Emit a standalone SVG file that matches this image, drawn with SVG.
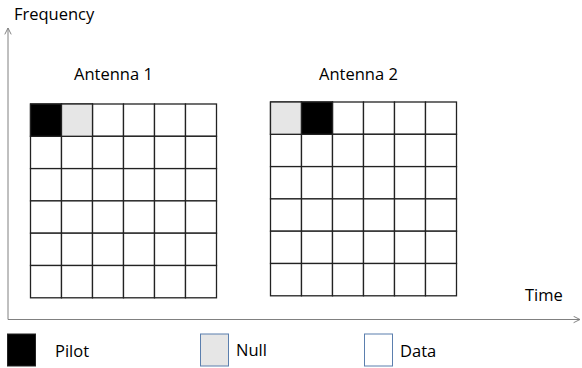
<svg xmlns="http://www.w3.org/2000/svg" width="582" height="368" viewBox="0 0 582 368">
<style>
text{font-family:"Open Sans","Liberation Sans",Arial,sans-serif;font-size:16.5px;fill:#000}
.cell{fill:#fff;stroke:#222;stroke-width:1.3}
.pilot{fill:#000;stroke:#222;stroke-width:1.3}
.null{fill:#e6e6e6;stroke:#222;stroke-width:1.3}
.axis{stroke:#808080;stroke-width:1;fill:none}
.leg{stroke:#5b7fae;stroke-width:1}
</style>
<defs>
<marker id="arr" viewBox="0 0 10 10" refX="9" refY="5" markerWidth="8" markerHeight="8" orient="auto" markerUnits="userSpaceOnUse">
<path d="M1,1 L9,5 L1,9" fill="none" stroke="#808080" stroke-width="1.2"/>
</marker>
<g id="row">
<rect class="cell" x="0" y="0" width="31" height="32.3"/>
<rect class="cell" x="31" y="0" width="31" height="32.3"/>
<rect class="cell" x="62" y="0" width="31" height="32.3"/>
<rect class="cell" x="93" y="0" width="31" height="32.3"/>
<rect class="cell" x="124" y="0" width="31" height="32.3"/>
<rect class="cell" x="155" y="0" width="31" height="32.3"/>
</g>
<g id="grid">
<use href="#row" y="0"/>
<use href="#row" y="32.3"/>
<use href="#row" y="64.6"/>
<use href="#row" y="96.9"/>
<use href="#row" y="129.2"/>
<use href="#row" y="161.5"/>
</g>
</defs>
<g id="connectors">
<line class="axis" x1="8" y1="319.5" x2="8" y2="28" marker-end="url(#arr)"/>
<line class="axis" x1="8" y1="319.5" x2="580" y2="319.5" marker-end="url(#arr)"/>
</g>
<text x="14" y="20">Frequency</text>
<text x="525" y="301">Time</text>
<g id="antenna1">
<text x="74" y="80">Antenna 1</text>
<use href="#grid" x="30.5" y="104"/>
<rect class="pilot" x="30.5" y="104" width="31" height="32.3"/>
<rect class="null" x="61.5" y="104" width="31" height="32.3"/>
</g>
<g id="antenna2">
<text x="319" y="80">Antenna 2</text>
<use href="#grid" x="270.5" y="102"/>
<rect class="null" x="270.5" y="102" width="31" height="32.3"/>
<rect class="pilot" x="301.5" y="102" width="31" height="32.3"/>
</g>
<g id="legend-pilot">
<rect x="7.5" y="334" width="28" height="32" fill="#000" stroke="#222" stroke-width="1"/>
<text x="55" y="357">Pilot</text>
</g>
<g id="legend-null">
<rect class="leg" x="200.5" y="334" width="28" height="32" fill="#e6e6e6"/>
<text x="236" y="356">Null</text>
</g>
<g id="legend-data">
<rect class="leg" x="364.5" y="334" width="28" height="32" fill="#fff"/>
<text x="400" y="357">Data</text>
</g>
</svg>
